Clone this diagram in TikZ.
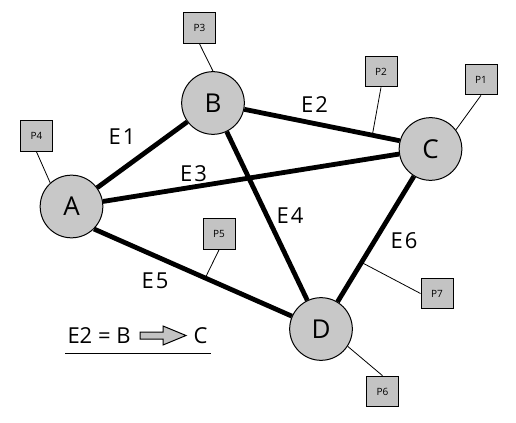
\documentclass[tikz,border=0pt]{standalone}
\usepackage{fontspec}
\setmainfont{Open Sans}
\usetikzlibrary{calc}
\definecolor{cnode}{HTML}{C8C8C8}
\definecolor{cbox}{HTML}{C3C3C3}
\newcommand{\elab}[1]{E\hspace{1.6pt}#1}
\tikzset{
  every picture/.style={line width=0.75pt},
  vertex/.style={circle, draw, fill=cnode, minimum size=47pt, inner sep=0pt, font=\fontsize{19.5}{21}\selectfont},
  pinbox/.style={rectangle, draw, fill=cbox, minimum width=24pt, minimum height=23pt, inner sep=0pt, font=\fontsize{7.5}{8}\selectfont},
  edge/.style={line width=3.6pt},
  lead/.style={line width=0.6pt},
  elabel/.style={font=\fontsize{16.5}{18}\selectfont, inner sep=0pt},
}

\begin{document}
\begin{tikzpicture}[x=0.75pt, y=-0.75pt]
  \useasboundingbox (0,0) rectangle (516,423);
  % vertices
  \node[vertex] (a) at (71.5,206.5) {A};
  \node[vertex] (b) at (213,103) {B};
  \node[vertex] (c) at (430.5,149) {C};
  \node[vertex] (d) at (321,329) {D};
  % edges
  \draw[edge] (a) -- (b);
  \draw[edge] (b) -- (c.165);
  \draw[edge] (a) -- (c);
  \draw[edge] (b) -- (d);
  \draw[edge] (a.-45) -- (d);
  \draw[edge] (c) -- (d);
  \node[elabel] (e1) at (122,136.5) {\elab{1}};
  \node[elabel] (e2) at (314.5,105) {\elab{2}};
  \node[elabel] (e3) at (193.5,174) {\elab{3}};
  \node[elabel] (e4) at (290,216) {\elab{4}};
  \node[elabel] (e5) at (155,281) {\elab{5}};
  \node[elabel] (e6) at (404,241) {\elab{6}};
  % pins
  \node[pinbox] (p1) at (481,79.5) {P1};
  \node[pinbox] (p2) at (381,71.5) {P2};
  \node[pinbox] (p3) at (199.5,28) {P3};
  \node[pinbox] (p4) at (36.5,136) {P4};
  \node[pinbox] (p5) at (219,234) {P5};
  \node[pinbox] (p6) at (382.5,391.5) {P6};
  \node[pinbox] (p7) at (437,293.5) {P7};
  \coordinate (q2) at ($(b)!0.853!(c.165)$);
  \coordinate (q5) at ($(a.-45)!0.49!(d)$);
  \coordinate (q7) at ($(c)!0.63!(d)$);
  \draw[lead] (p1.south) -- (c.37);
  \draw[lead] (p2.south) -- (q2);
  \draw[lead] (p3.south) -- (b.north);
  \draw[lead] (p4.south) -- (a.132);
  \draw[lead] (p5.south) -- (q5);
  \draw[lead] (p6.north) -- (d.-33);
  \draw[lead] (p7.west) -- (q7);
  % legend
  \node[elabel, anchor=west] (lg1) at (67,336) {E2 = B};
  \node[elabel, anchor=west] (lg2) at (193,336) {C};
  \draw[fill=cbox] (140,332) -- (163,332) -- (163,326) -- (186,335.5)
    -- (163,345) -- (163,339) -- (140,339) -- cycle;
  \draw (65,353) -- (211,353);
\end{tikzpicture}
\end{document}
